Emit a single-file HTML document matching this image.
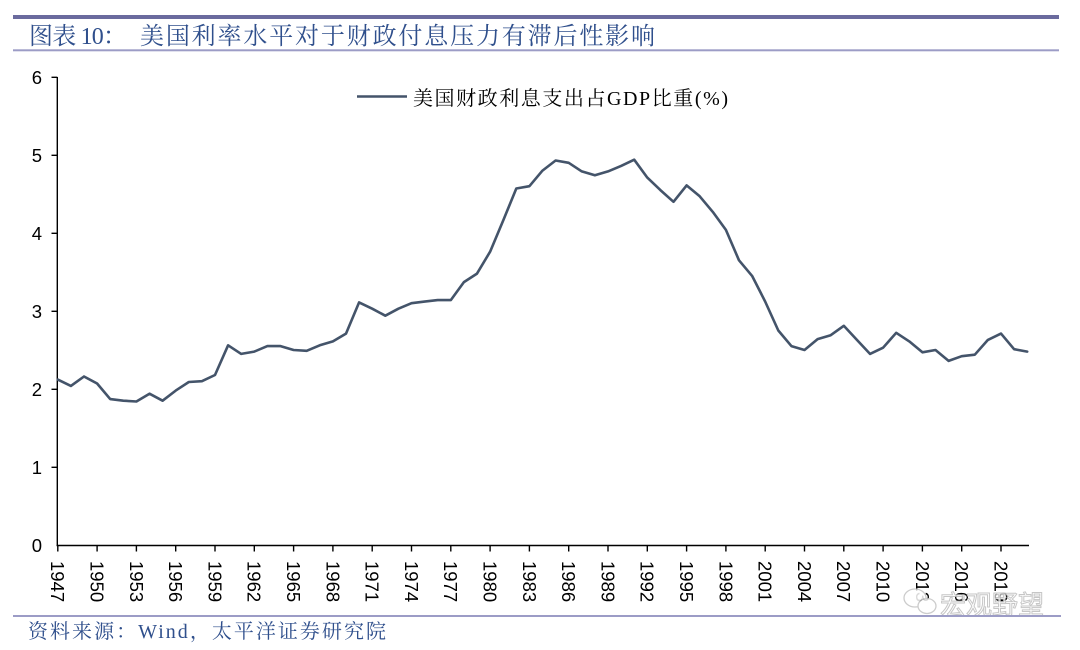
<!DOCTYPE html>
<html>
<head>
<meta charset="utf-8">
<style>
  html, body { margin:0; padding:0; background:#ffffff; }
  body { width:1080px; height:650px; overflow:hidden; }
  svg { display:block; }
</style>
</head>
<body>
<svg width="1080" height="650" viewBox="0 0 1080 650" xmlns="http://www.w3.org/2000/svg">
  <rect width="1080" height="650" fill="#ffffff"/>

  <!-- header rules -->
  <rect x="13" y="15" width="1046" height="4" fill="#6b6b9e"/>
  <rect x="13" y="49.3" width="1046" height="2" fill="#9c9cc6"/>

  <!-- title -->
  <text x="29" y="44" font-family="'Liberation Serif','Noto Serif CJK SC',serif" font-size="24" fill="#2f4f8c" textLength="98" lengthAdjust="spacing">图表 10：</text>
  <text x="140" y="44" font-family="'Liberation Serif','Noto Serif CJK SC',serif" font-size="24" fill="#2f4f8c" textLength="515" lengthAdjust="spacing">美国利率水平对于财政付息压力有滞后性影响</text>

  <!-- y axis -->
  <line x1="57.3" y1="77" x2="57.3" y2="546" stroke="#000" stroke-width="1.4"/>
  <g stroke="#000" stroke-width="1.4">
    <line x1="51.5" y1="77.3" x2="57.3" y2="77.3"/>
    <line x1="51.5" y1="155.3" x2="57.3" y2="155.3"/>
    <line x1="51.5" y1="233.3" x2="57.3" y2="233.3"/>
    <line x1="51.5" y1="311.3" x2="57.3" y2="311.3"/>
    <line x1="51.5" y1="389.3" x2="57.3" y2="389.3"/>
    <line x1="51.5" y1="467.3" x2="57.3" y2="467.3"/>
  </g>
  <g font-family="'Liberation Sans',Arial,sans-serif" font-size="18.5" fill="#000" text-anchor="end">
    <text x="42" y="84">6</text>
    <text x="42" y="162">5</text>
    <text x="42" y="240">4</text>
    <text x="42" y="318">3</text>
    <text x="42" y="396">2</text>
    <text x="42" y="474">1</text>
    <text x="42" y="552">0</text>
  </g>

  <!-- x axis -->
  <line x1="56.6" y1="545.5" x2="1029" y2="545.5" stroke="#000" stroke-width="1.4"/>
  <g stroke="#000" stroke-width="1.4">
    <line x1="57.8" y1="545.5" x2="57.8" y2="551.5"/>
    <line x1="97.1" y1="545.5" x2="97.1" y2="551.5"/>
    <line x1="136.4" y1="545.5" x2="136.4" y2="551.5"/>
    <line x1="175.7" y1="545.5" x2="175.7" y2="551.5"/>
    <line x1="215.0" y1="545.5" x2="215.0" y2="551.5"/>
    <line x1="254.3" y1="545.5" x2="254.3" y2="551.5"/>
    <line x1="293.6" y1="545.5" x2="293.6" y2="551.5"/>
    <line x1="332.9" y1="545.5" x2="332.9" y2="551.5"/>
    <line x1="372.2" y1="545.5" x2="372.2" y2="551.5"/>
    <line x1="411.5" y1="545.5" x2="411.5" y2="551.5"/>
    <line x1="450.8" y1="545.5" x2="450.8" y2="551.5"/>
    <line x1="490.1" y1="545.5" x2="490.1" y2="551.5"/>
    <line x1="529.4" y1="545.5" x2="529.4" y2="551.5"/>
    <line x1="568.7" y1="545.5" x2="568.7" y2="551.5"/>
    <line x1="608.0" y1="545.5" x2="608.0" y2="551.5"/>
    <line x1="647.3" y1="545.5" x2="647.3" y2="551.5"/>
    <line x1="686.6" y1="545.5" x2="686.6" y2="551.5"/>
    <line x1="725.9" y1="545.5" x2="725.9" y2="551.5"/>
    <line x1="765.2" y1="545.5" x2="765.2" y2="551.5"/>
    <line x1="804.5" y1="545.5" x2="804.5" y2="551.5"/>
    <line x1="843.8" y1="545.5" x2="843.8" y2="551.5"/>
    <line x1="883.1" y1="545.5" x2="883.1" y2="551.5"/>
    <line x1="922.4" y1="545.5" x2="922.4" y2="551.5"/>
    <line x1="961.7" y1="545.5" x2="961.7" y2="551.5"/>
    <line x1="1001.0" y1="545.5" x2="1001.0" y2="551.5"/>
  </g>
  <g font-family="'Liberation Sans',Arial,sans-serif" font-size="18.5" fill="#000">
    <text transform="translate(51.2,561) rotate(90)">1947</text>
    <text transform="translate(90.5,561) rotate(90)">1950</text>
    <text transform="translate(129.8,561) rotate(90)">1953</text>
    <text transform="translate(169.1,561) rotate(90)">1956</text>
    <text transform="translate(208.4,561) rotate(90)">1959</text>
    <text transform="translate(247.7,561) rotate(90)">1962</text>
    <text transform="translate(287.0,561) rotate(90)">1965</text>
    <text transform="translate(326.3,561) rotate(90)">1968</text>
    <text transform="translate(365.6,561) rotate(90)">1971</text>
    <text transform="translate(404.9,561) rotate(90)">1974</text>
    <text transform="translate(444.2,561) rotate(90)">1977</text>
    <text transform="translate(483.5,561) rotate(90)">1980</text>
    <text transform="translate(522.8,561) rotate(90)">1983</text>
    <text transform="translate(562.1,561) rotate(90)">1986</text>
    <text transform="translate(601.4,561) rotate(90)">1989</text>
    <text transform="translate(640.7,561) rotate(90)">1992</text>
    <text transform="translate(680.0,561) rotate(90)">1995</text>
    <text transform="translate(719.3,561) rotate(90)">1998</text>
    <text transform="translate(758.6,561) rotate(90)">2001</text>
    <text transform="translate(797.9,561) rotate(90)">2004</text>
    <text transform="translate(837.2,561) rotate(90)">2007</text>
    <text transform="translate(876.5,561) rotate(90)">2010</text>
    <text transform="translate(915.8,561) rotate(90)">2013</text>
    <text transform="translate(955.1,561) rotate(90)">2016</text>
    <text transform="translate(994.4,561) rotate(90)">2019</text>
  </g>

  <!-- data series -->
  <polyline fill="none" stroke="#44546a" stroke-width="2.6" stroke-linejoin="round" stroke-linecap="round"
    points="57.8,379.6 70.9,385.9 84.0,376.5 97.1,383.5 110.2,399.1 123.3,400.7 136.4,401.5 149.5,393.7 162.6,400.7 175.7,390.6 188.8,382.0 201.9,381.2 215.0,375.0 228.1,345.3 241.2,353.9 254.3,351.6 267.4,346.1 280.5,346.1 293.6,350.0 306.7,350.8 319.8,345.3 332.9,341.4 346.0,333.6 359.1,302.4 372.2,308.7 385.3,315.7 398.4,308.7 411.5,303.2 424.6,301.6 437.7,300.1 450.8,300.1 463.9,282.1 477.0,273.6 490.1,251.7 503.2,220.5 516.3,188.5 529.4,186.2 542.5,170.6 555.6,160.5 568.7,162.8 581.8,171.4 594.9,175.3 608.0,171.4 621.1,165.9 634.2,159.7 647.3,177.6 660.4,190.1 673.5,201.8 686.6,185.4 699.7,196.3 712.8,211.9 725.9,229.9 739.0,260.3 752.1,275.9 765.2,301.6 778.3,330.5 791.4,346.1 804.5,350.0 817.6,339.1 830.7,335.2 843.8,325.8 856.9,339.9 870.0,353.9 883.1,347.7 896.2,332.8 909.3,341.4 922.4,352.3 935.5,350.0 948.6,360.9 961.7,356.2 974.8,354.7 987.9,339.9 1001.0,333.6 1014.1,349.2 1027.2,351.6"/>

  <!-- legend -->
  <line x1="357" y1="96.5" x2="407" y2="96.5" stroke="#44546a" stroke-width="2.6"/>
  <text x="413" y="105" font-family="'Liberation Serif','Noto Serif CJK SC',serif" font-size="20" fill="#000" textLength="315" lengthAdjust="spacing">美国财政利息支出占GDP比重(%)</text>

  <!-- watermark -->
  <g opacity="0.85">
    <ellipse cx="915" cy="598" rx="11" ry="9" fill="#fff" stroke="#c4c4c4" stroke-width="1.3"/>
    <ellipse cx="927" cy="606" rx="9" ry="7.5" fill="#fff" stroke="#c4c4c4" stroke-width="1.3"/>
    <text x="940" y="614" font-family="'Noto Sans CJK SC',sans-serif" font-size="26" fill="#ffffff" stroke="#bdbdbd" stroke-width="1" textLength="104" lengthAdjust="spacing">宏观野望</text>
  </g>

  <!-- bottom rule -->
  <rect x="13" y="615" width="1048" height="2" fill="#9c9cc6"/>

  <!-- source -->
  <text x="28" y="638" font-family="'Liberation Serif','Noto Serif CJK SC',serif" font-size="20" fill="#2f4f8c" textLength="358" lengthAdjust="spacing">资料来源：Wind，太平洋证券研究院</text>
</svg>
</body>
</html>
